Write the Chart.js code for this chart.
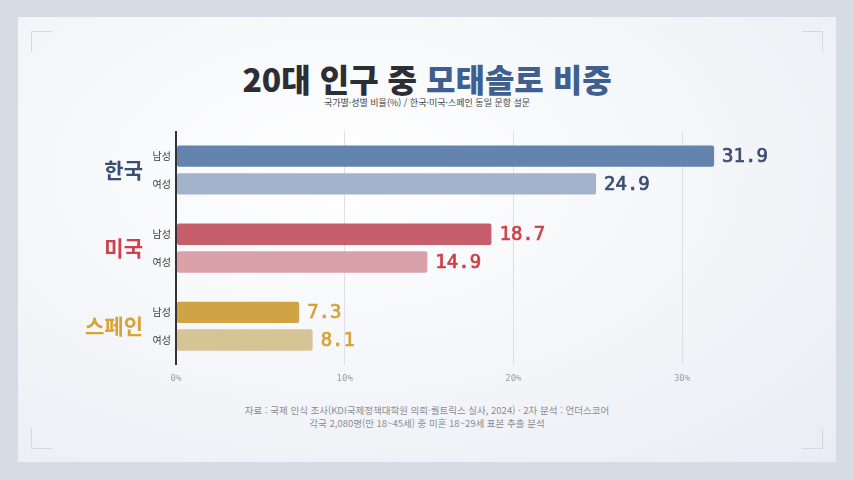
<!DOCTYPE html>
<html lang="ko">
<head>
<meta charset="utf-8">
<script src="https://cdn.jsdelivr.net/npm/chart.js@4/dist/chart.umd.min.js"></script>
<style>
  html, body { margin: 0; padding: 0; }
  body {
    width: 854px; height: 480px; position: relative; overflow: hidden;
    background: #d5dce5;
    font-family: "Noto Sans CJK KR", "Noto Sans", sans-serif;
  }
  #panel {
    position: absolute; left: 18px; top: 17px; width: 818px; height: 445px;
    background: radial-gradient(ellipse at 40% 35%, #ffffff 0%, #f6f7fa 45%, #e9ecf3 100%);
  }
  .corner { position: absolute; width: 20px; height: 20px; border-color: #d4d8df; border-style: solid; border-width: 0; }
  .tl { left: 31px; top: 31px; border-left-width: 1.5px; border-top-width: 1.5px; }
  .tr { right: 31px; top: 31px; border-right-width: 1.5px; border-top-width: 1.5px; }
  .bl { left: 31px; bottom: 31px; border-left-width: 1.5px; border-bottom-width: 1.5px; }
  .br { right: 31px; bottom: 31px; border-right-width: 1.5px; border-bottom-width: 1.5px; }
  #title {
    position: absolute; left: 0; width: 854px; top: 56px; text-align: center;
    font-size: 32px; font-weight: 900; color: #2c2e33; line-height: 44px;
  }
  #title span { color: #3e5f8f; }
  #sub {
    position: absolute; left: 0; width: 854px; top: 97px; text-align: center;
    font-size: 9px; color: #444; line-height: 12px;
  }
  #foot {
    position: absolute; left: 0; width: 854px; top: 404px; text-align: center;
    font-size: 9.5px; color: #8a8d94; line-height: 12.5px;
  }
  canvas { position: absolute; left: 0; top: 0; }
</style>
</head>
<body>
<div id="panel"></div>
<div class="corner tl"></div><div class="corner tr"></div>
<div class="corner bl"></div><div class="corner br"></div>
<div id="title">20대 인구 중 <span>모태솔로 비중</span></div>
<div id="sub">국가별·성별 비율(%) / 한국·미국·스페인 동일 문항 설문</div>
<div id="foot">자료 : 국제 인식 조사(KDI국제정책대학원 의뢰·퀄트릭스 실사, 2024) · 2차 분석 : 언더스코어<br>각국 2,080명(만 18~45세) 중 미혼 18~29세 표본 추출 분석</div>
<canvas id="chart" width="854" height="480"></canvas>
<script>
const countries = ["한국", "미국", "스페인"];
const genders = ["남성", "여성"];
const maleValues = [31.9, 18.7, 7.3];
const femaleValues = [24.9, 14.9, 8.1];
const xTicks = [0, 10, 20, 30];

const countryColors = ["#3a4d72", "#cf3f49", "#d5a336"];
const maleColors = ["#6384ac", "#c75e6b", "#cea445"];
const femaleColors = ["#a2b4cb", "#dba1aa", "#d6c497"];

const labelPlugin = {
  id: "labels",
  afterDatasetsDraw(chart) {
    const ctx = chart.ctx;
    const area = chart.chartArea;
    const yScale = chart.scales.y;
    ctx.save();
    ctx.textBaseline = "middle";
    // country names
    ctx.font = "bold 21px 'Noto Sans CJK KR'";
    ctx.textAlign = "right";
    countries.forEach((c, i) => {
      ctx.fillStyle = countryColors[i];
      ctx.fillText(c, 143, yScale.getPixelForValue(i));
    });
    chart.data.datasets.forEach((ds, di) => {
      const meta = chart.getDatasetMeta(di);
      meta.data.forEach((bar, i) => {
        // gender label
        ctx.font = "10px 'Noto Sans CJK KR'";
        ctx.textAlign = "right";
        ctx.fillStyle = "#3a3a3a";
        ctx.fillText(genders[di], area.left - 5, bar.y);
        // value
        ctx.font = "19px 'DejaVu Sans Mono'";
        ctx.textAlign = "left";
        ctx.fillStyle = countryColors[i];
        ctx.strokeStyle = countryColors[i];
        ctx.lineWidth = 0.7;
        ctx.fillText(ds.data[i].toFixed(1), bar.x + 8, bar.y + 1);
        ctx.strokeText(ds.data[i].toFixed(1), bar.x + 8, bar.y + 1);
      });
    });
    ctx.restore();
  }
};

new Chart(document.getElementById("chart"), {
  type: "bar",
  data: {
    labels: countries,
    datasets: [
      { label: genders[0], data: maleValues, backgroundColor: maleColors, borderRadius: 2, borderSkipped: false },
      { label: genders[1], data: femaleValues, backgroundColor: femaleColors, borderRadius: 2, borderSkipped: false }
    ]
  },
  options: {
    indexAxis: "y",
    responsive: false,
    animation: false,
    categoryPercentage: 0.71,
    barPercentage: 0.77,
    layout: { padding: { left: 176, right: 37, top: 131, bottom: 88 } },
    plugins: { legend: { display: false }, tooltip: { enabled: false } },
    scales: {
      x: {
        min: 0, max: 38,
        afterBuildTicks: (axis) => { axis.ticks = xTicks.map(v => ({ value: v })); },
        border: { display: false },
        grid: {
          drawTicks: false,
          color: (c) => c.tick && c.tick.value === 0 ? "#333333" : "#dcdfe5",
          lineWidth: (c) => c.tick && c.tick.value === 0 ? 2 : 1
        },
        ticks: {
          padding: 8,
          color: "#9a9ca3",
          font: { family: "DejaVu Sans Mono", size: 9 },
          callback: (v) => v + "%"
        }
      },
      y: { display: false }
    }
  },
  plugins: [labelPlugin]
});
</script>
</body>
</html>
